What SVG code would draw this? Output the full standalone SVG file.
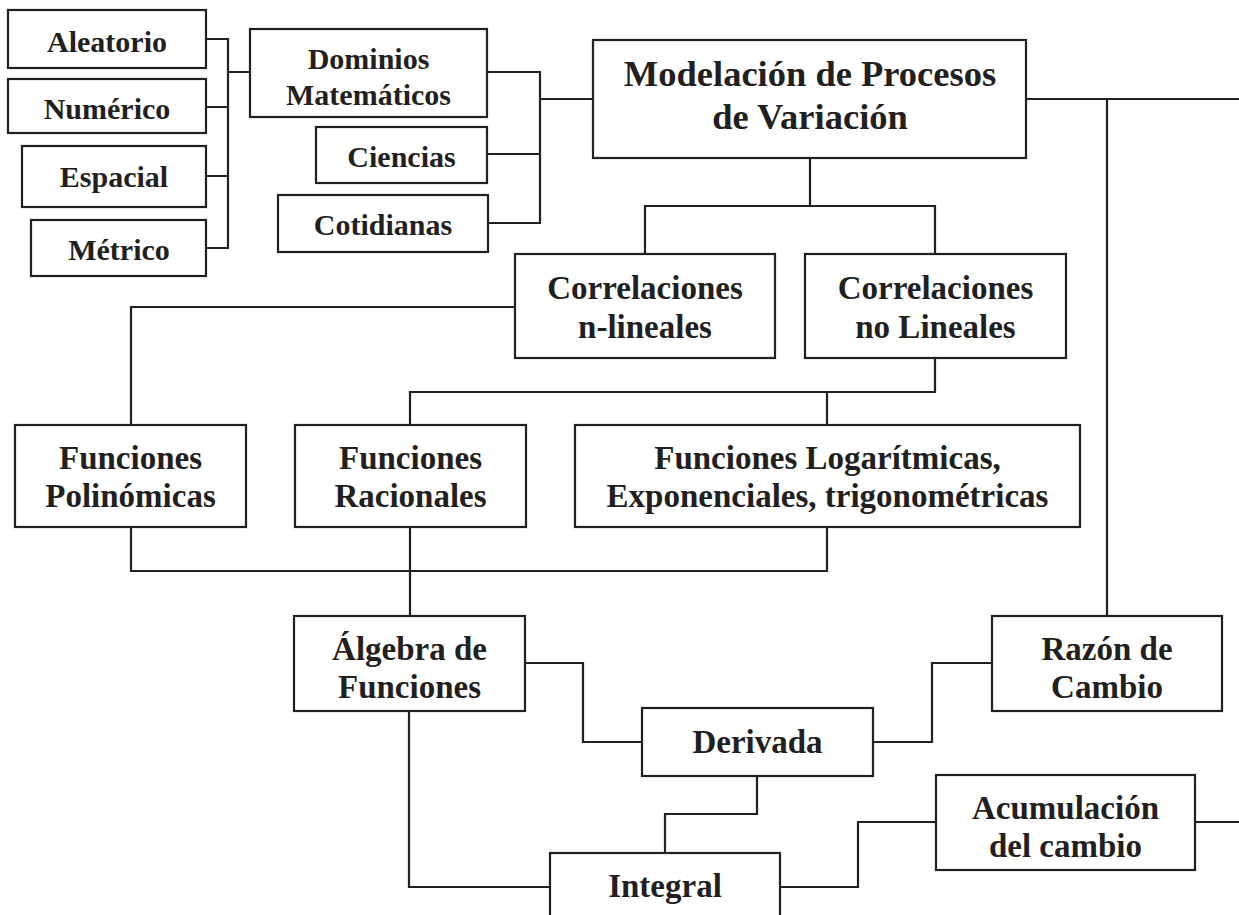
<svg xmlns="http://www.w3.org/2000/svg" width="1239" height="915" viewBox="0 0 1239 915">
  <style>
    .box { fill: #ffffff; stroke: #231f20; stroke-width: 2.2; }
    .link { fill: none; stroke: #231f20; stroke-width: 2.2; stroke-linecap: square; }
    text { font-family: "Liberation Serif", "Times New Roman", serif; font-weight: bold; fill: #231f20; text-anchor: middle; }
    .s30 { font-size: 30px; }
    .s33 { font-size: 33px; }
    .s36 { font-size: 36.5px; }
  </style>
  <rect width="1239" height="915" fill="#ffffff"/>

  <!-- connectors -->
  <g id="connectors" class="link">
    <path d="M206,39 H228 M206,107 H228 M206,176 H228 M206,248 H228 M228,39 V248 M228,72 H250"/>
    <path d="M487,72 H540 M487,154 H540 M488,223 H540 M540,72 V223 M540,99 H593"/>
    <path d="M1026,99 H1239 M1107,99 V616"/>
    <path d="M810,158 V206 M645,206 H935 M645,206 V254 M935,206 V254"/>
    <path d="M515,307 H131 V425"/>
    <path d="M935,358 V392 M410,392 H935 M410,392 V425 M827,392 V425"/>
    <path d="M131,527 V571 H827 V527 M410,527 V616"/>
    <path d="M525,663 H583 V742 H642"/>
    <path d="M873,742 H932 V663 H992"/>
    <path d="M757,776 V814 H665 V853"/>
    <path d="M409,711 V887 H550"/>
    <path d="M780,887 H858 V822 H936"/>
    <path d="M1195,822 H1239"/>
  </g>

  <!-- nodes -->
  <g id="aleatorio">
    <rect class="box" x="8" y="10" width="198" height="58"/>
    <text class="s30" x="107" y="52">Aleatorio</text>
  </g>
  <g id="numerico">
    <rect class="box" x="8" y="79" width="198" height="54"/>
    <text class="s30" x="107" y="119">Numérico</text>
  </g>
  <g id="espacial">
    <rect class="box" x="22" y="146" width="184" height="61"/>
    <text class="s30" x="114" y="187">Espacial</text>
  </g>
  <g id="metrico">
    <rect class="box" x="31" y="220" width="175" height="56"/>
    <text class="s30" x="119" y="260">Métrico</text>
  </g>
  <g id="dominios">
    <rect class="box" x="250" y="29" width="237" height="88"/>
    <text class="s30" x="368.5" y="69">Dominios</text>
    <text class="s30" x="368.5" y="105">Matemáticos</text>
  </g>
  <g id="ciencias">
    <rect class="box" x="316" y="127" width="171" height="56"/>
    <text class="s30" x="401.5" y="167">Ciencias</text>
  </g>
  <g id="cotidianas">
    <rect class="box" x="278" y="195" width="210" height="57"/>
    <text class="s30" x="383" y="235">Cotidianas</text>
  </g>
  <g id="modelacion">
    <rect class="box" x="593" y="40" width="433" height="118"/>
    <text class="s36" x="810" y="86">Modelación de Procesos</text>
    <text class="s36" x="810" y="129">de Variación</text>
  </g>
  <g id="correlaciones-n-lineales">
    <rect class="box" x="515" y="254" width="260" height="104"/>
    <text class="s33" x="645" y="299">Correlaciones</text>
    <text class="s33" x="645" y="338">n-lineales</text>
  </g>
  <g id="correlaciones-no-lineales">
    <rect class="box" x="805" y="254" width="261" height="104"/>
    <text class="s33" x="935.5" y="299">Correlaciones</text>
    <text class="s33" x="935.5" y="338">no Lineales</text>
  </g>
  <g id="funciones-polinomicas">
    <rect class="box" x="15" y="425" width="231" height="102"/>
    <text class="s33" x="130.5" y="469">Funciones</text>
    <text class="s33" x="130.5" y="507">Polinómicas</text>
  </g>
  <g id="funciones-racionales">
    <rect class="box" x="295" y="425" width="231" height="102"/>
    <text class="s33" x="410.5" y="469">Funciones</text>
    <text class="s33" x="410.5" y="507">Racionales</text>
  </g>
  <g id="funciones-logaritmicas">
    <rect class="box" x="575" y="425" width="505" height="102"/>
    <text class="s33" x="827.5" y="469">Funciones Logarítmicas,</text>
    <text class="s33" x="827.5" y="507">Exponenciales, trigonométricas</text>
  </g>
  <g id="algebra-de-funciones">
    <rect class="box" x="294" y="616" width="231" height="95"/>
    <text class="s33" x="409.5" y="660">Álgebra de</text>
    <text class="s33" x="409.5" y="698">Funciones</text>
  </g>
  <g id="derivada">
    <rect class="box" x="642" y="708" width="231" height="68"/>
    <text class="s33" x="757.5" y="753">Derivada</text>
  </g>
  <g id="integral">
    <rect class="box" x="550" y="853" width="230" height="90"/>
    <text class="s33" x="665" y="897">Integral</text>
  </g>
  <g id="razon-de-cambio">
    <rect class="box" x="992" y="616" width="230" height="95"/>
    <text class="s33" x="1107" y="660">Razón de</text>
    <text class="s33" x="1107" y="698">Cambio</text>
  </g>
  <g id="acumulacion-del-cambio">
    <rect class="box" x="936" y="775" width="259" height="95"/>
    <text class="s33" x="1065.5" y="819">Acumulación</text>
    <text class="s33" x="1065.5" y="857">del cambio</text>
  </g>
</svg>
